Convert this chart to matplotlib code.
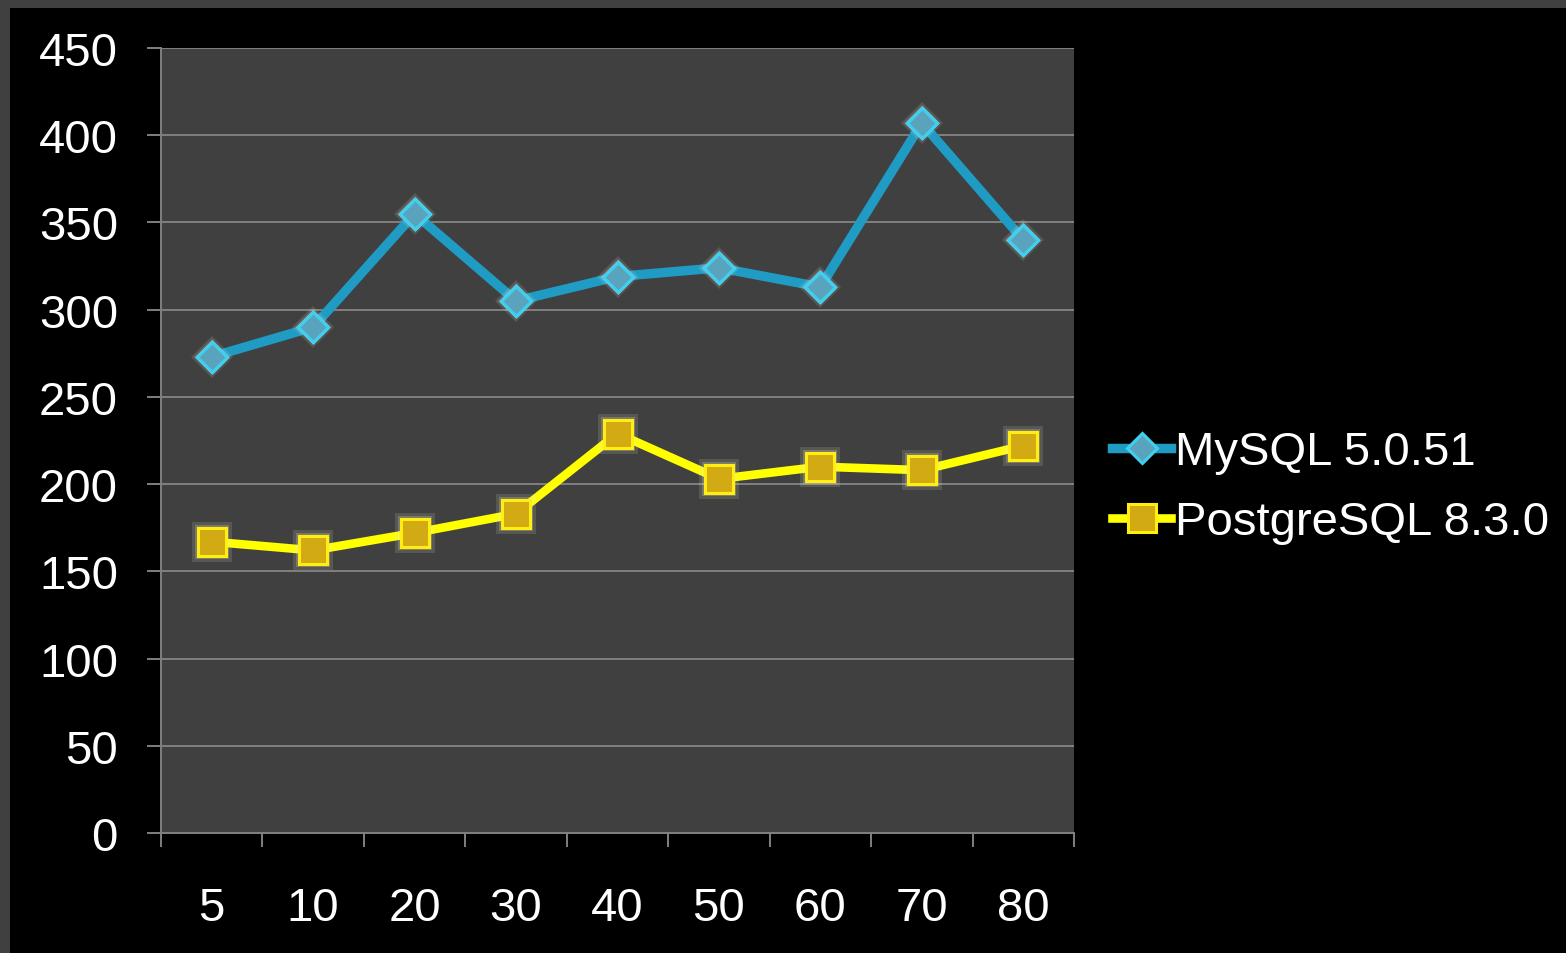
import matplotlib.pyplot as plt
from matplotlib.patches import Rectangle

# concurrency level vs throughput
categories = ["5", "10", "20", "30", "40", "50", "60", "70", "80"]
mysql = [273, 290, 355, 305, 319, 324, 313, 407, 340]
postgres = [167, 162, 172, 183, 229, 203, 210, 208, 222]
series_names = ["MySQL 5.0.51", "PostgreSQL 8.3.0"]
y_ticks = [0, 50, 100, 150, 200, 250, 300, 350, 400, 450]

plt.rcParams["font.family"] = ["Liberation Sans", "DejaVu Sans"]

fig = plt.figure(figsize=(15.66, 9.54), dpi=100, facecolor="black")

# grey frame strips at top and left
fig.patches.append(Rectangle((0, 1 - 9 / 954), 1, 9 / 954, transform=fig.transFigure,
                             facecolor="#404040", edgecolor="none", zorder=0))
fig.patches.append(Rectangle((0, 0), 10 / 1566, 1, transform=fig.transFigure,
                             facecolor="#404040", edgecolor="none", zorder=0))

ax = fig.add_axes([161 / 1566, 120 / 954, 913 / 1566, 785 / 954])
ax.set_facecolor("#404040")

x = list(range(len(categories)))

# soft glow under the markers
for size, alpha in [(29, 0.14), (25, 0.22), (22, 0.32)]:
    ax.plot(x, mysql, ls="none", marker="D", ms=size * 0.72, color="#e8e8e0",
            alpha=alpha, markeredgewidth=0, zorder=5)
    ax.plot(x, postgres, ls="none", marker="s", ms=size, color="#f0ecc8",
            alpha=alpha, markeredgewidth=0, zorder=5)

ax.plot(x, mysql, color="#1f9bc4", lw=6.8, label=series_names[0], zorder=4,
        marker="D", ms=15, markerfacecolor="#5aa3bd", markeredgecolor="#3fd0f0",
        markeredgewidth=2.2)
ax.plot(x, postgres, color="#ffff00", lw=6.2, label=series_names[1], zorder=4,
        marker="s", ms=20.5, markerfacecolor="#d2aa14", markeredgecolor="#ffee10",
        markeredgewidth=2.2)
# redraw markers above the glow
ax.plot(x, mysql, ls="none", marker="D", ms=15, markerfacecolor="#5aa3bd",
        markeredgecolor="#3fd0f0", markeredgewidth=2.2, zorder=6)
ax.plot(x, postgres, ls="none", marker="s", ms=20.5, markerfacecolor="#d2aa14",
        markeredgecolor="#ffee10", markeredgewidth=2.2, zorder=6)

ax.set_xlim(-0.5, len(categories) - 0.5)
ax.set_ylim(0, 450)
ax.set_yticks(y_ticks)
ax.set_yticklabels([str(v) for v in y_ticks])
ax.set_xticks(x)
ax.set_xticklabels(categories)
ax.set_xticks([i - 0.5 for i in range(len(categories) + 1)], minor=True)

ax.yaxis.grid(True, color="#808080", lw=1.4)
ax.set_axisbelow(True)

for side in ["top", "right"]:
    ax.spines[side].set_visible(False)
for side in ["left", "bottom"]:
    ax.spines[side].set_color("#808080")
    ax.spines[side].set_linewidth(1.4)

ax.tick_params(axis="y", colors="#808080", length=10, width=1.4, pad=21,
               labelsize=34, labelcolor="white")
ax.tick_params(axis="x", which="major", length=0, pad=38, labelsize=34,
               labelcolor="white")
ax.tick_params(axis="x", which="minor", colors="#808080", length=10, width=1.4)

leg = ax.legend(loc="center left", bbox_to_anchor=(1112 / 1566, 0.488),
                bbox_transform=fig.transFigure, frameon=False, fontsize=34,
                handlelength=1.25, handletextpad=0.08, borderpad=0,
                borderaxespad=0, labelspacing=0.55, labelcolor="white")

fig.savefig("out.png", dpi=100, facecolor="black")
